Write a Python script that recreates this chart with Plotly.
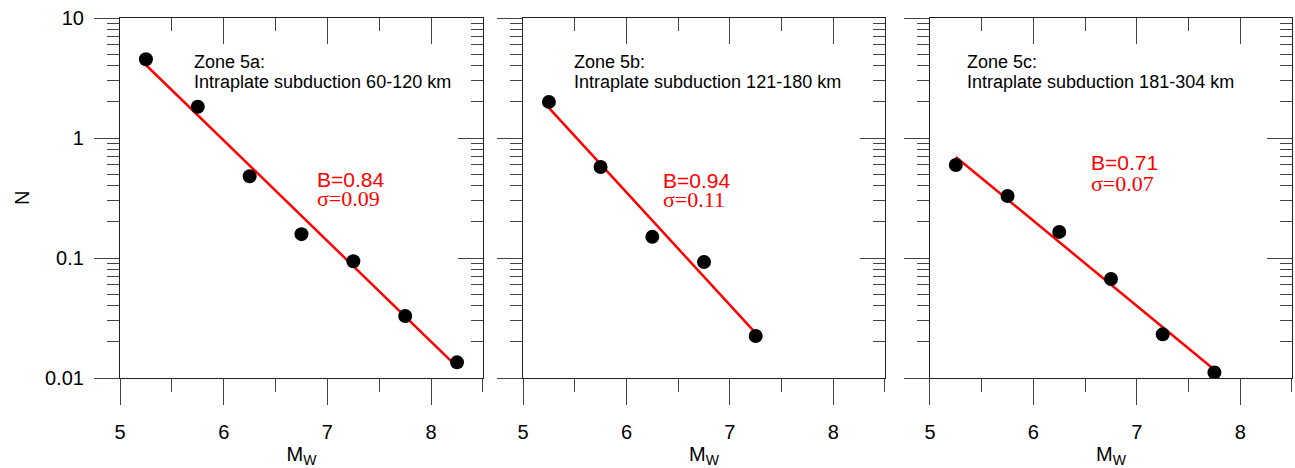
import plotly.graph_objects as go

# ---------------- data ----------------
mw_5a = [5.25, 5.75, 6.25, 6.75, 7.25, 7.75, 8.25]
n_5a = [4.53, 1.82, 0.48, 0.158, 0.094, 0.0329, 0.0135]
fit_mw_5a = [5.25, 8.25]
fit_n_5a = [4.06, 0.0124]

mw_5b = [5.25, 5.75, 6.25, 6.75, 7.25]
n_5b = [2.0, 0.573, 0.150, 0.0926, 0.0224]
fit_mw_5b = [5.25, 7.25]
fit_n_5b = [1.78, 0.0237]

mw_5c = [5.25, 5.75, 6.25, 6.75, 7.25, 7.75]
n_5c = [0.596, 0.329, 0.165, 0.0668, 0.0231, 0.0111]
fit_mw_5c = [5.25, 7.75]
fit_n_5c = [0.695, 0.0117]

zone_titles = ["Zone 5a:", "Zone 5b:", "Zone 5c:"]
zone_desc = ["Intraplate subduction 60-120 km",
             "Intraplate subduction 121-180 km",
             "Intraplate subduction 181-304 km"]
b_texts = ["B=0.84", "B=0.94", "B=0.71"]
sigma_texts = ["σ=0.09", "σ=0.11", "σ=0.07"]

x_major = [5, 6, 7, 8]
x_minor = [5.5, 6.5, 7.5, 8.5]
y_major = [0.01, 0.1, 1, 10]
y_major_text = ["0.01", "0.1", "1", "10"]
y_minor = [m * d for d in (0.01, 0.1, 1) for m in range(2, 10)]

# ---------------- layout params ----------------
SANS = "Liberation Sans, Arial, sans-serif"
SERIF = "Liberation Serif, Times New Roman, Times, serif"
domains = [[0.0, 0.3097], [0.3439, 0.6527], [0.6911, 1.0]]
xr = [5, 8.5]
yr = [-2, 1]  # log10

series = [(mw_5a, n_5a, fit_mw_5a, fit_n_5a),
          (mw_5b, n_5b, fit_mw_5b, fit_n_5b),
          (mw_5c, n_5c, fit_mw_5c, fit_n_5c)]

zone_x = [5.694, 5.473, 5.339]
zone_y1 = [0.633, 0.633, 0.633]
zone_y2 = [0.467, 0.467, 0.467]
b_x = [6.88, 6.33, 6.54]
b_y = [-0.342, -0.35, -0.208]
s_y = [-0.508, -0.51, -0.375]

fig = go.Figure()
layout = dict(
    width=1295, height=468,
    margin=dict(l=120, r=3, t=18, b=90),
    paper_bgcolor="white", plot_bgcolor="white",
    showlegend=False,
    font=dict(family=SANS, size=20, color="black"),
)

LINEC = "#222222"
TICKC = "#444444"

annotations = []
for i, (mx, nn, fx, fn) in enumerate(series):
    k = i + 1
    xa = "x" if k == 1 else f"x{k}"
    ya = "y" if k == 1 else f"y{k}"
    fig.add_trace(go.Scatter(x=fx, y=fn, mode="lines",
                             line=dict(color="#ff0000", width=2.5),
                             xaxis=xa, yaxis=ya, hoverinfo="skip"))
    fig.add_trace(go.Scatter(x=mx, y=nn, mode="markers",
                             marker=dict(color="black", size=14),
                             xaxis=xa, yaxis=ya))

    xname = "xaxis" if k == 1 else f"xaxis{k}"
    yname = "yaxis" if k == 1 else f"yaxis{k}"
    layout[xname] = dict(
        domain=domains[i], range=xr, anchor=ya,
        showline=True, linecolor=LINEC, linewidth=1.2,
        showgrid=False, zeroline=False,
        ticks="outside", ticklen=26, tickwidth=1.3, tickcolor=TICKC,
        tickmode="array", tickvals=x_major, ticktext=[str(v) for v in x_major],
        ticklabelstandoff=10,
        tickfont=dict(size=20),
        minor=dict(tickmode="array", tickvals=x_minor, ticks="outside",
                   ticklen=13, tickwidth=1.3, tickcolor=TICKC, showgrid=False),
        title=dict(text="M<sub>W</sub>", font=dict(size=20), standoff=4),
    )
    ydict = dict(
        domain=[0, 1], type="log", range=yr, anchor=xa,
        showline=True, linecolor=LINEC, linewidth=1.2,
        showgrid=False, zeroline=False,
        ticks="outside", ticklen=25, tickwidth=1.3, tickcolor=TICKC,
        tickmode="array", tickvals=y_major,
        showticklabels=(k == 1),
        ticklabelstandoff=6,
        tickfont=dict(size=20),
        minor=dict(tickmode="array", tickvals=y_minor, ticks="outside",
                   ticklen=12, tickwidth=1.3, tickcolor=TICKC, showgrid=False),
    )
    if k == 1:
        ydict["ticktext"] = y_major_text
    layout[yname] = ydict

    # overlay axes: top x (ticks inside), right y (ticks inside)
    kt = k + 3
    layout[f"xaxis{kt}"] = dict(
        overlaying=xa, side="top", anchor=ya, range=xr,
        showline=True, linecolor=LINEC, linewidth=1.2,
        showgrid=False, zeroline=False, showticklabels=False,
        ticks="inside", ticklen=26, tickwidth=1.3, tickcolor=TICKC,
        tickmode="array", tickvals=x_major,
        minor=dict(tickmode="array", tickvals=x_minor, ticks="inside",
                   ticklen=13, tickwidth=1.3, tickcolor=TICKC, showgrid=False),
    )
    layout[f"yaxis{kt}"] = dict(
        overlaying=ya, side="right", anchor=xa, type="log", range=yr,
        showline=True, linecolor=LINEC, linewidth=1.2,
        showgrid=False, zeroline=False, showticklabels=False,
        ticks="inside", ticklen=25, tickwidth=1.3, tickcolor=TICKC,
        tickmode="array", tickvals=y_major,
        minor=dict(tickmode="array", tickvals=y_minor, ticks="inside",
                   ticklen=12, tickwidth=1.3, tickcolor=TICKC, showgrid=False),
    )
    fig.add_trace(go.Scatter(x=[mx[0]], y=[nn[0]], mode="markers",
                             marker=dict(opacity=0), xaxis=f"x{kt}", yaxis=ya,
                             hoverinfo="skip"))
    fig.add_trace(go.Scatter(x=[mx[0]], y=[nn[0]], mode="markers",
                             marker=dict(opacity=0), xaxis=xa, yaxis=f"y{kt}",
                             hoverinfo="skip"))

    annotations += [
        dict(x=zone_x[i], y=zone_y1[i], xref=xa, yref=ya, text=zone_titles[i],
             showarrow=False, xanchor="left", yanchor="middle",
             font=dict(family=SANS, size=18, color="black")),
        dict(x=zone_x[i], y=zone_y2[i], xref=xa, yref=ya, text=zone_desc[i],
             showarrow=False, xanchor="left", yanchor="middle",
             font=dict(family=SANS, size=18, color="black")),
        dict(x=b_x[i], y=b_y[i], xref=xa, yref=ya, text=b_texts[i],
             showarrow=False, xanchor="left", yanchor="middle",
             font=dict(family=SANS, size=21, color="#ff0000")),
        dict(x=b_x[i], y=s_y[i], xref=xa, yref=ya, text=sigma_texts[i],
             showarrow=False, xanchor="left", yanchor="middle",
             font=dict(family=SERIF, size=22, color="#ff0000")),
    ]

# y-axis title "N" (left of the tick labels)
plot_w = 1295 - 120 - 3
annotations.append(dict(x=(22 - 120) / plot_w, y=0.5, xref="paper", yref="paper",
                        text="N", showarrow=False, textangle=-90,
                        xanchor="center", yanchor="middle",
                        font=dict(family=SANS, size=20, color="black")))
layout["annotations"] = annotations
fig.update_layout(**layout)
fig.write_html("out.html")
